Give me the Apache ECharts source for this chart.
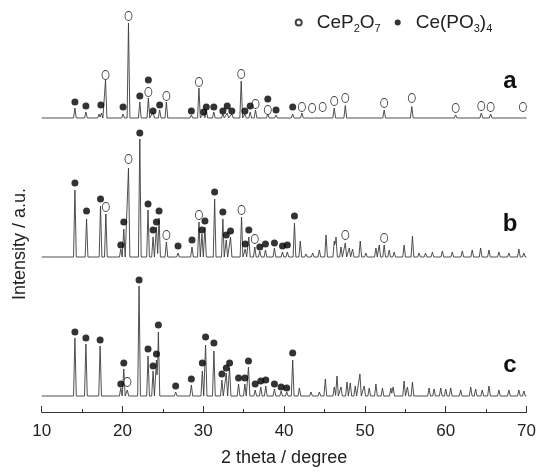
<!DOCTYPE html>
<html>
<head>
<meta charset="utf-8">
<script src="https://cdn.jsdelivr.net/npm/echarts@6/dist/echarts.min.js"></script>
<style>
html,body{margin:0;padding:0;background:#fff;}
#chart{width:539px;height:472px;}
</style>
</head>
<body>
<div id="chart"></div>
<script>
// x-axis ticks (2 theta, degree)
const xTicks = [10, 20, 30, 40, 50, 60, 70];

// Diffraction peaks: [2theta, intensity (a.u.)]
const peaksA = [[14.11,10],[15.47,6],[17.1,4],[17.4,5],[17.9,38],[20.07,4],[20.74,95],[22.14,16],[23.2,20],[23.78,6],[24.6,8],[25.43,16],[28.52,3],[29.46,30],[30.04,5],[30.37,8],[31.3,6],[32.42,4],[32.96,5],[33.53,4],[34.69,37],[35.14,4],[35.8,6],[36.46,8],[37.98,4],[39.0,3],[41.06,4],[42.2,5],[43.46,2],[44.77,2],[46.2,10],[47.57,12.5],[52.38,8],[55.8,11.5],[61.23,3],[64.4,5],[65.56,4],[69.55,2]];

const peaksB = [[14.11,67],[15.55,38],[17.28,51],[17.94,43],[19.79,8],[20.16,28],[20.74,89],[22.14,118],[23.16,47],[23.78,20],[24.2,30],[24.52,39],[25.43,15],[26.87,4],[28.6,10],[29.46,35],[29.83,23],[30.2,30],[31.4,58],[32.42,38],[32.84,17],[33.37,20],[34.73,40],[35.19,8],[35.63,20],[36.37,10],[36.99,6],[37.69,7],[38.8,9],[39.8,5],[40.4,5],[41.28,34],[42.0,16],[42.7,3],[43.53,4],[44.36,7],[45.19,22],[46.21,16],[46.42,20],[47.04,10],[47.57,14],[48.06,9],[48.47,8],[49.42,16],[50.12,4],[51.36,9],[51.77,12],[52.38,12],[53.0,7],[53.62,5],[54.85,12],[55.88,21],[56.7,4],[57.5,4],[58.35,5],[59.58,6],[60.81,5],[62.05,6],[63.28,7],[64.32,9],[65.35,7],[66.58,5],[67.82,4],[69.05,8],[69.67,4]];

const peaksC = [[14.11,58],[15.47,52],[17.23,50],[19.79,8],[20.16,27],[20.6,6],[22.05,110],[23.16,40],[23.78,25],[24.2,36],[24.44,64],[26.58,4],[28.52,11],[29.88,25],[30.28,51],[31.31,45],[32.3,16],[32.84,23],[33.25,28],[34.36,12],[35.14,12],[35.59,29],[36.42,6],[37.11,9],[37.73,10],[38.8,7],[39.63,5],[40.32,4],[41.06,36],[41.89,8],[43.33,4],[44.36,4],[45.1,17],[46.21,9],[46.54,20],[47.04,9],[47.78,14],[48.19,13],[48.8,10],[49.38,22],[49.91,10],[50.53,8],[51.36,12],[52.17,8],[53.21,8],[53.49,9],[54.85,15],[55.26,9],[55.88,14],[57.94,8],[58.56,7],[59.38,8],[60.0,7],[60.62,8],[61.85,6],[63.09,9],[63.7,7],[64.52,6],[65.35,10],[66.58,6],[67.82,6],[69.05,6],[69.67,5]];

// Phase markers: [2theta, height above the trace baseline]
const ceP2O7A = [[17.9,43],[20.74,102],[23.2,26],[25.43,22],[29.46,36],[34.69,44],[36.46,14],[37.98,8],[42.2,11],[43.46,10],[44.77,11],[46.2,17],[47.57,20],[52.38,15],[55.8,20],[61.23,10],[64.4,12],[65.56,11],[69.55,11]];
const cePO3A = [[14.11,16],[15.47,12],[17.32,13],[20.07,11],[22.14,22],[23.2,38],[23.78,7],[24.6,13],[28.52,7],[30.04,6],[30.37,11],[31.3,11],[32.42,7],[32.96,12],[33.53,7],[35.14,7],[35.8,12],[37.98,19],[39.0,8],[41.06,11]];

const ceP2O7B = [[17.94,50],[20.74,98],[25.43,22],[29.46,42],[34.73,47],[36.37,18],[47.57,22],[52.38,19]];
const cePO3B = [[14.11,74],[15.55,46],[17.28,58],[19.79,12],[20.16,35],[22.14,124],[23.16,53],[23.78,27],[24.2,35],[24.52,46],[26.87,11],[28.6,17],[29.83,27],[30.2,36],[31.4,65],[32.42,45],[32.84,22],[33.37,26],[35.19,13],[35.63,27],[36.99,10],[37.69,13],[38.8,14],[39.8,11],[40.4,12],[41.28,41]];

const ceP2O7C = [[20.6,14]];
const cePO3C = [[14.11,64],[15.47,58],[17.23,56],[19.79,12],[20.16,33],[22.05,116],[23.16,47],[23.78,30],[24.2,42],[24.44,71],[26.58,10],[28.52,17],[29.88,33],[30.28,59],[31.31,53],[32.3,22],[32.84,28],[33.25,33],[34.36,18],[35.14,18],[35.59,35],[36.42,12],[37.11,15],[37.73,16],[38.8,12],[39.63,9],[40.32,8],[41.06,43]];

// vertical stacking offsets of the traces
const offsets = {a: 294, b: 155, c: 16};
const halfWidth = 0.17;

function profile(peaks, base) {
  const xs = [xTicks[0], xTicks[xTicks.length - 1]];
  peaks.forEach(p => { xs.push(p[0] - halfWidth, p[0], p[0] + halfWidth); });
  xs.sort((u, v) => u - v);
  return xs.map(x => {
    let m = 0;
    peaks.forEach(p => {
      const d = Math.abs(x - p[0]);
      if (d < halfWidth) m = Math.max(m, p[1] * (1 - d / halfWidth));
    });
    return [x, base + m];
  });
}
function shift(list, base) { return list.map(p => [p[0], base + p[1]]); }

const chart = echarts.init(document.getElementById('chart'), null, {renderer: 'canvas'});
const lineStyle = {color: '#3c3c3c', width: 0.9};
const font = 'Liberation Sans, Arial, sans-serif';

const option = {
  backgroundColor: '#ffffff',
  animation: false,
  grid: {left: 41.7, right: 11.3, top: 0, bottom: 60},
  legend: {
    left: 289.7, top: 8, itemWidth: 26, itemHeight: 6, itemGap: 14,
    data: [{name: 'CeP2O7', icon: 'circle'}, {name: 'Ce(PO3)4', icon: 'circle'}],
    formatter: n => n === 'CeP2O7' ? '{n|CeP}{s|2}{n|O}{s|7}' : '{n|Ce(PO}{s|3}{n|)}{s|4}',
    textStyle: {
      fontFamily: font, color: '#222',
      rich: {
        n: {fontSize: 19, fontFamily: font, color: '#222'},
        s: {fontSize: 11, fontFamily: font, color: '#222', padding: [12, 0, 0, 0]}
      }
    }
  },
  xAxis: {
    type: 'value', min: 10, max: 70, interval: 10,
    name: '2 theta / degree', nameLocation: 'middle', nameGap: 37,
    nameTextStyle: {fontSize: 18, fontFamily: font, color: '#222'},
    axisLine: {show: true, lineStyle: {color: '#333', width: 1}},
    axisTick: {show: true, inside: true, length: 6, lineStyle: {color: '#333'}},
    minorTick: {show: true, splitNumber: 2, length: 3, lineStyle: {color: '#333'}},
    axisLabel: {fontSize: 17, fontFamily: font, color: '#222', margin: 11},
    splitLine: {show: false}
  },
  yAxis: {
    type: 'value', min: 0, max: 412,
    axisLine: {show: false}, axisTick: {show: false}, axisLabel: {show: false}, splitLine: {show: false}
  },
  graphic: [
    {type: 'text', x: 20, y: 244, rotation: Math.PI / 2,
     style: {text: 'Intensity / a.u.', font: '18px ' + font, fill: '#222', textAlign: 'center', textVerticalAlign: 'middle'}},
    {type: 'text', x: 510, y: 81, style: {text: 'a', font: 'bold 24px ' + font, fill: '#111', textAlign: 'center', textVerticalAlign: 'middle'}},
    {type: 'text', x: 510, y: 224, style: {text: 'b', font: 'bold 24px ' + font, fill: '#111', textAlign: 'center', textVerticalAlign: 'middle'}},
    {type: 'text', x: 510, y: 365, style: {text: 'c', font: 'bold 24px ' + font, fill: '#111', textAlign: 'center', textVerticalAlign: 'middle'}}
  ],
  series: [
    {name: 'a', type: 'line', data: profile(peaksA, offsets.a), showSymbol: false, lineStyle: lineStyle, z: 2},
    {name: 'b', type: 'line', data: profile(peaksB, offsets.b), showSymbol: false, lineStyle: lineStyle, z: 2},
    {name: 'c', type: 'line', data: profile(peaksC, offsets.c), showSymbol: false, lineStyle: lineStyle, z: 2},
    {name: 'CeP2O7', type: 'scatter', symbol: 'circle', symbolSize: [7, 9],
     itemStyle: {color: '#ffffff', borderColor: '#111', borderWidth: 1},
     data: shift(ceP2O7A, offsets.a).concat(shift(ceP2O7B, offsets.b), shift(ceP2O7C, offsets.c)), z: 3},
    {name: 'Ce(PO3)4', type: 'scatter', symbol: 'circle', symbolSize: 7,
     itemStyle: {color: '#000'},
     data: shift(cePO3A, offsets.a).concat(shift(cePO3B, offsets.b), shift(cePO3C, offsets.c)), z: 3}
  ]
};
chart.setOption(option);
</script>
</body>
</html>
